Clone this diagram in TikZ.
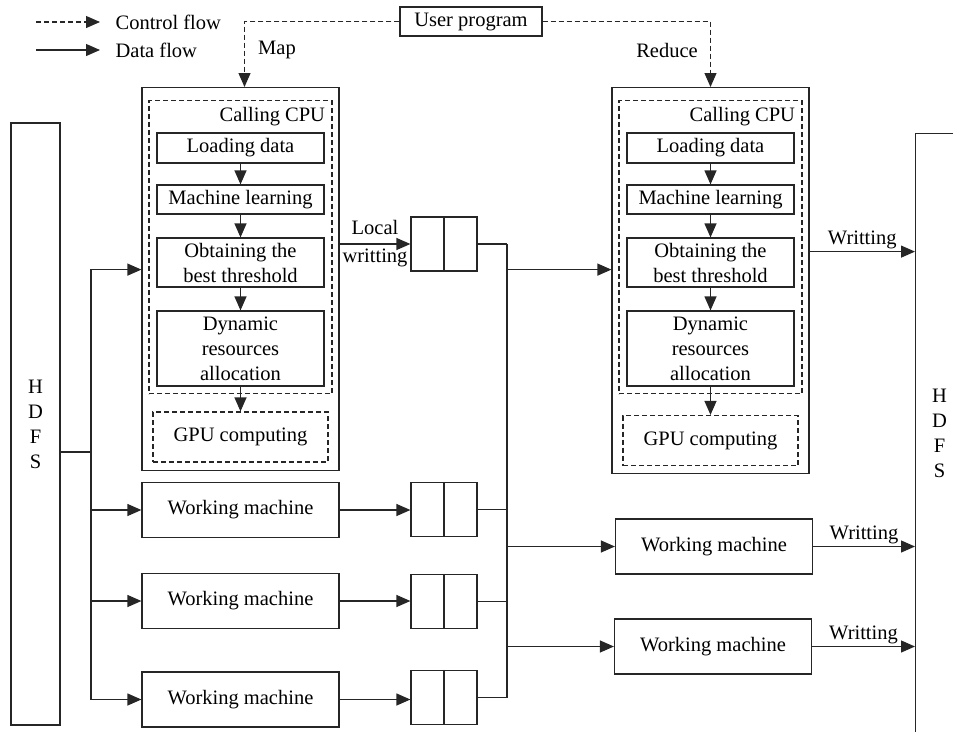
\documentclass[tikz,border=0pt]{standalone}
\usepackage{fontspec}
\setmainfont{Liberation Serif}
\usetikzlibrary{arrows.meta, positioning, calc}
\definecolor{cline}{HTML}{262626}
\tikzset{
  every picture/.style={line width=1.2pt},
  box/.style={draw=cline, align=center, inner sep=0pt},
  dbox/.style={box, dash pattern=on 5pt off 3pt},
  stage/.style={box, minimum width=167},
  arrow/.style={-{Triangle[length=14pt, width=12pt]}, draw=cline},
  carrow/.style={arrow, dash pattern=on 5pt off 3pt},
  lbl/.style={inner sep=2pt, align=center},
}

\begin{document}
\begin{tikzpicture}[x=1pt, y=-1pt, font=\fontsize{20.5}{25}\selectfont,
                    worker/.style={box, minimum width=197, minimum height=55},
                    queue/.style={box, minimum width=66, minimum height=54}]
  \useasboundingbox (0,0) rectangle (953,731);
  % legend
  \coordinate (c0) at (36,22); \coordinate (c1) at (100,22);
  \coordinate (d0) at (36,50); \coordinate (d1) at (100,50);
  \draw[carrow] (c0) -- (c1);
  \draw[arrow] (d0) -- (d1);
  \node[lbl, anchor=west] (ctl) at (113,22) {Control flow};
  \node[lbl, anchor=west] (dat) at (113,50) {Data flow};
  % user program
  \node[box, minimum width=142, minimum height=29] (user) at (471,21.5) {User program};
  % map and reduce
  \foreach \p/\cx/\bh/\gy in {m/240.5/383/437, r/710.5/386/440.5} {
    \node[box, minimum width=197, minimum height=\bh, anchor=north] (\p-box) at (\cx,87) {};
    \node[dbox, minimum width=183, minimum height=293, anchor=north] (\p-cpu) at (\cx,100) {};
    \node[lbl, anchor=east] (\p-cpulbl) at ([xshift=-5pt, yshift=-17pt]\p-cpu.north east) {Calling CPU};
    \node[stage, minimum height=30] (\p-load) at (\cx,148) {Loading data};
    \node[stage, minimum height=29] (\p-ml) at (\cx,199.5) {Machine learning};
    \node[stage, minimum height=49] (\p-thr) at (\cx,262.5) {Obtaining the\\best threshold};
    \node[stage, minimum height=75] (\p-dyn) at (\cx,348.5) {Dynamic\\resources\\allocation};
    \node[dbox, minimum width=175, minimum height=50] (\p-gpu) at (\cx,\gy) {GPU computing};
    \draw[arrow] (\p-load) -- (\p-ml);
    \draw[arrow] (\p-ml) -- (\p-thr);
    \draw[arrow] (\p-thr) -- (\p-dyn);
    \draw[arrow] (\p-dyn) -- (\p-gpu);
  }
  \draw[carrow] (user.west) -| ([xshift=4pt]m-box.north);
  \draw[carrow] (user.east) -| (r-box.north);
  \node[lbl] (maplbl) at (277,50) {Map};
  \node[lbl] (redlbl) at (667,50) {Reduce};
  % hdfs
  \node[box, minimum width=49, minimum height=602] (lhdfs) at (35.5,424) {H\\D\\F\\S};
  \node[box, minimum width=48, minimum height=600, anchor=north west] (rhdfs) at (915,133) {H\\D\\F\\S};
  % workers and queues
  \foreach \i/\qy in {0/244, 1/509.5, 2/601.5, 3/697.5} {
    \node[queue] (q\i) at (444,\qy) {};
    \draw[cline] (q\i.north) -- (q\i.south);
  }
  \foreach \i/\y in {1/510, 2/601, 3/699.5} {
    \node[worker] (w\i) at (240.5,\y) {Working machine};
    \draw[arrow] (w\i.east) -- (w\i.east -| q\i.west);
  }
  \node[worker] (v1) at (714,546.5) {Working machine};
  \node[worker] (v2) at (713,646.5) {Working machine};
  % left trunk
  \coordinate (lsp) at (91,452);
  \coordinate (min) at ([yshift=9.5pt]m-box.west);
  \draw[cline] (lhdfs.east |- lsp) -- (lsp);
  \draw[arrow] (lsp) |- (min);
  \foreach \i in {1,2,3} \draw[arrow] (lsp) |- (w\i.west);
  \draw[arrow] (m-box.east |- q0.west) -- (q0.west) node[midway, lbl] (lw) {Local\\[3pt]writting};
  % right trunk
  \coordinate (rsp) at (507,450);
  \coordinate (rin) at ([yshift=11pt]r-box.west);
  \foreach \i in {0,1,2,3} \draw[cline] (q\i.east) -- (q\i.east -| rsp);
  \draw[cline] (rsp |- q0.east) -- (rsp |- q3.east);
  \draw[arrow] (rsp |- rin) -- (rin);
  \draw[arrow] (rsp |- v1.west) -- (v1.west);
  \draw[arrow] (rsp |- v2.west) -- (v2.west);
  % writing to hdfs
  \coordinate (rout) at ([yshift=29pt]r-box.east);
  \draw[arrow] (rout) -- (rout -| rhdfs.west) node[midway, above, lbl] (wr0) {Writting};
  \draw[arrow] (v1.east) -- (v1.east -| rhdfs.west) node[midway, above, lbl] (wr1) {Writting};
  \draw[arrow] (v2.east) -- (v2.east -| rhdfs.west) node[midway, above, lbl] (wr2) {Writting};
\end{tikzpicture}
\end{document}
